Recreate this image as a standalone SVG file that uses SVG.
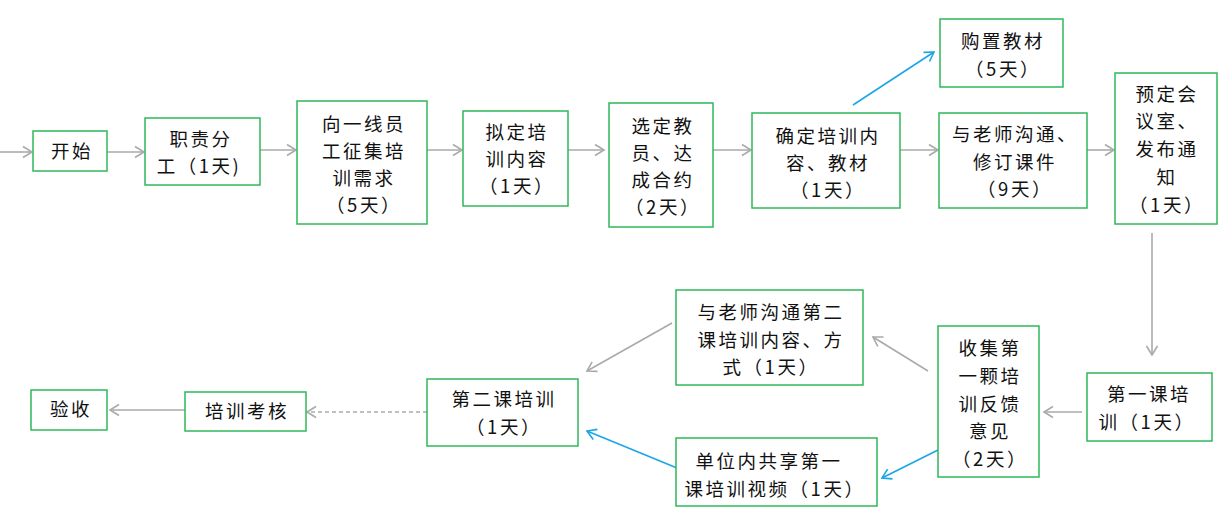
<svg xmlns="http://www.w3.org/2000/svg" width="1225" height="524" viewBox="0 0 1225 524">
<defs>
<marker id="ag" markerUnits="userSpaceOnUse" markerWidth="14" markerHeight="14" refX="10" refY="6" orient="auto" viewBox="0 0 14 12">
<path d="M1,0.5 L10,6 L1,11.5" fill="none" stroke="#aaaaaa" stroke-width="1.6"/>
</marker>
<marker id="ab" markerUnits="userSpaceOnUse" markerWidth="14" markerHeight="14" refX="10" refY="6" orient="auto" viewBox="0 0 14 12">
<path d="M1,0.5 L10,6 L1,11.5" fill="none" stroke="#1ba6e6" stroke-width="1.6"/>
</marker>
<style>
.box{fill:#ffffff;stroke:#2fb85a;stroke-width:1.5}
.t{font-family:"Noto Sans CJK SC","Liberation Serif",sans-serif;font-size:18.5px;fill:#111111;text-anchor:middle;letter-spacing:2.5px}
.g{fill:none;stroke:#aaaaaa;stroke-width:1.6;marker-end:url(#ag)}
.b{fill:none;stroke:#1ba6e6;stroke-width:1.6;marker-end:url(#ab)}
.d{stroke-dasharray:4,3}
</style>
</defs>
<rect width="1225" height="524" fill="#ffffff"/>
<g id="connectors">
<line class="g" x1="0" y1="152" x2="32" y2="152"/>
<line class="g" x1="107" y1="152" x2="144" y2="152"/>
<line class="g" x1="260" y1="150" x2="296" y2="150"/>
<line class="g" x1="427" y1="150" x2="462" y2="150"/>
<line class="g" x1="568" y1="150" x2="604" y2="150"/>
<line class="g" x1="713" y1="150" x2="751" y2="150"/>
<line class="g" x1="900" y1="150" x2="938" y2="150"/>
<line class="g" x1="1087" y1="150" x2="1114" y2="150"/>
<line class="b" x1="853" y1="105" x2="934" y2="52"/>
<line class="g" x1="1152" y1="233" x2="1152" y2="355"/>
<line class="g" x1="1082" y1="412" x2="1044" y2="412"/>
<line class="g" x1="928" y1="371" x2="873" y2="337"/>
<line class="b" x1="938" y1="450" x2="882" y2="478"/>
<line class="g" x1="672" y1="323" x2="587" y2="371"/>
<line class="b" x1="677" y1="468" x2="587" y2="431"/>
<line class="g d" x1="427" y1="412" x2="307" y2="412"/>
<line class="g" x1="185" y1="410" x2="110" y2="410"/>
</g>
<g id="n1"><rect class="box" x="33" y="131" width="74" height="40"/><text class="t" x="72" y="158">开始</text></g>
<g id="n2"><rect class="box" x="145" y="118" width="115" height="67"/><text class="t" x="201" y="146">职责分</text><text class="t" x="199" y="173">工（1天)</text></g>
<g id="n3"><rect class="box" x="297" y="101" width="130" height="123"/><text class="t" x="364" y="131">向一线员</text><text class="t" x="364" y="158">工征集培</text><text class="t" x="364" y="185">训需求</text><text class="t" x="364" y="212">（5天）</text></g>
<g id="n4"><rect class="box" x="463" y="111" width="105" height="95"/><text class="t" x="517" y="139">拟定培</text><text class="t" x="517" y="166">训内容</text><text class="t" x="517" y="193">（1天）</text></g>
<g id="n5"><rect class="box" x="609" y="103" width="104" height="124"/><text class="t" x="663" y="133">选定教</text><text class="t" x="663" y="160">员、达</text><text class="t" x="663" y="187">成合约</text><text class="t" x="663" y="214">（2天）</text></g>
<g id="n6"><rect class="box" x="752" y="113" width="148" height="95"/><text class="t" x="828" y="143">确定培训内</text><text class="t" x="828" y="170">容、教材</text><text class="t" x="828" y="197">（1天）</text></g>
<g id="n7"><rect class="box" x="940" y="19" width="123" height="68"/><text class="t" x="1003" y="48">购置教材</text><text class="t" x="1003" y="76">（5天）</text></g>
<g id="n8"><rect class="box" x="939" y="113" width="148" height="95"/><text class="t" x="1015" y="141">与老师沟通、</text><text class="t" x="1015" y="169">修订课件</text><text class="t" x="1015" y="196">（9天）</text></g>
<g id="n9"><rect class="box" x="1115" y="73" width="102" height="151"/><text class="t" x="1167" y="101">预定会</text><text class="t" x="1167" y="128">议室、</text><text class="t" x="1167" y="156">发布通</text><text class="t" x="1167" y="184">知</text><text class="t" x="1167" y="212">（1天）</text></g>
<g id="n10"><rect class="box" x="1087" y="373" width="125" height="68"/><text class="t" x="1149" y="401">第一课培</text><text class="t" x="1147" y="429">训（1天）</text></g>
<g id="n11"><rect class="box" x="938" y="326" width="101" height="151"/><text class="t" x="990" y="355">收集第</text><text class="t" x="990" y="383">一颗培</text><text class="t" x="990" y="411">训反馈</text><text class="t" x="990" y="438">意见</text><text class="t" x="990" y="466">（2天）</text></g>
<g id="n12"><rect class="box" x="676" y="290" width="187" height="95"/><text class="t" x="771" y="319">与老师沟通第二</text><text class="t" x="771" y="347">课培训内容、方</text><text class="t" x="771" y="374">式（1天）</text></g>
<g id="n13"><rect class="box" x="676" y="438" width="201" height="68"/><text class="t" x="769" y="468">单位内共享第一</text><text class="t" x="775" y="496">课培训视频（1天）</text></g>
<g id="n14"><rect class="box" x="427" y="379" width="151" height="67"/><text class="t" x="504" y="406">第二课培训</text><text class="t" x="504" y="434">（1天）</text></g>
<g id="n15"><rect class="box" x="185" y="392" width="121" height="39"/><text class="t" x="247" y="418">培训考核</text></g>
<g id="n16"><rect class="box" x="31" y="390" width="76" height="40"/><text class="t" x="71" y="416">验收</text></g>
</svg>
